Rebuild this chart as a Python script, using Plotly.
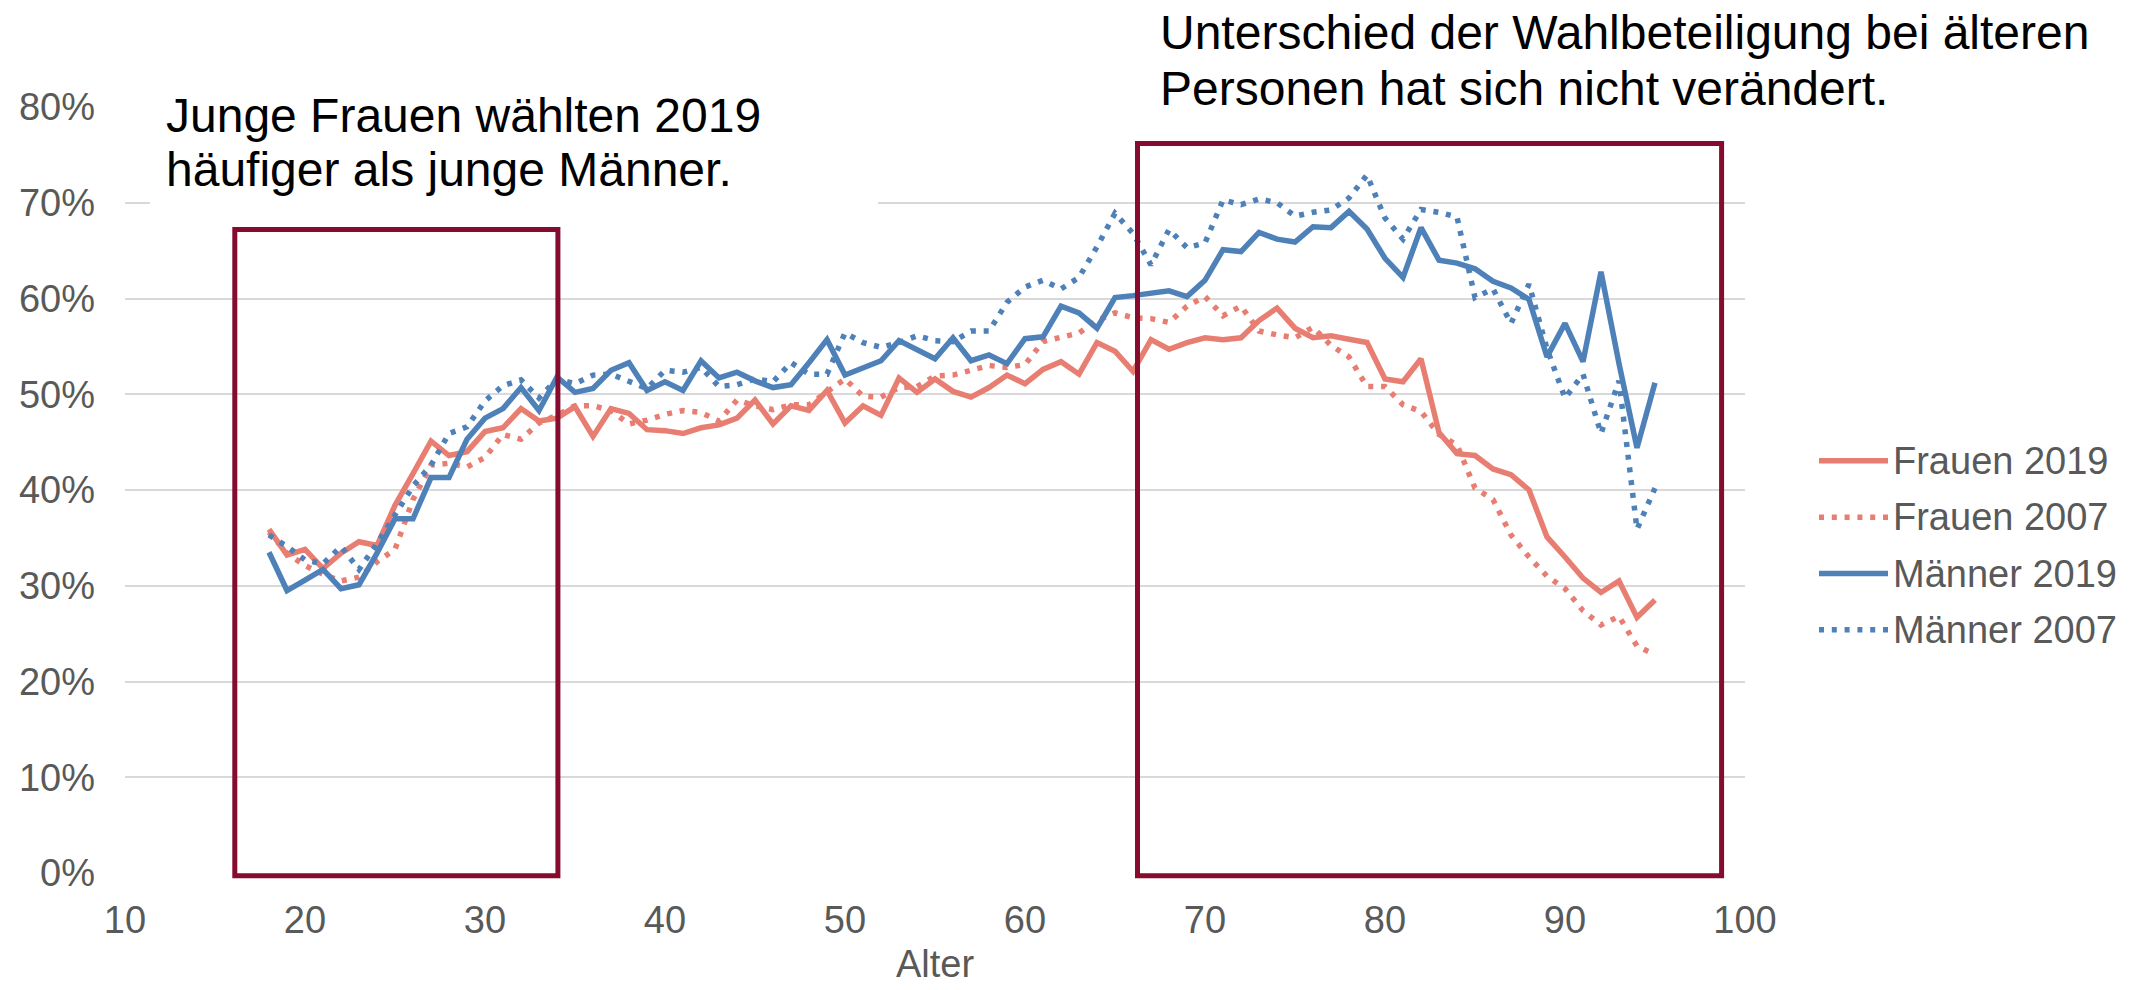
import plotly.graph_objects as go

# ---------------- data ----------------
ages = list(range(18, 96))

frauen_2019 = [35.9, 33.2, 33.8, 31.8, 33.4, 34.6, 34.2, 38.4, 41.7, 45.1,
               43.6, 44.0, 46.1, 46.5, 48.5, 47.2, 47.5, 48.7, 45.6, 48.5,
               48.0, 46.3, 46.2, 45.9, 46.5, 46.8, 47.5, 49.4, 46.9, 48.8,
               48.3, 50.4, 47.0, 48.8, 47.8, 51.7, 50.2, 51.6, 50.3, 49.7,
               50.7, 52.0, 51.1, 52.6, 53.4, 52.1, 55.4, 54.5, 52.4, 55.7,
               54.7, 55.4, 55.9, 55.7, 55.9, 57.7, 59.0, 56.9, 55.9, 56.1,
               55.75, 55.4, 51.6, 51.3, 53.7, 46.0, 43.8, 43.6, 42.2, 41.6,
               40.0, 35.1, 33.0, 30.8, 29.3, 30.5, 26.7, 28.5]

frauen_2007 = [35.6, 33.4, 32.1, 31.2, 30.5, 30.9, 32.5, 33.8, 39.0, 42.6,
               42.8, 42.4, 43.4, 45.8, 45.3, 47.0, 47.8, 48.8, 48.8, 48.3,
               46.9, 47.3, 47.9, 48.3, 48.1, 47.2, 49.4, 48.8, 48.4, 48.9,
               48.9, 50.3, 51.6, 49.8, 49.7, 50.7, 50.8, 51.9, 52.0, 52.5,
               53.0, 52.8, 53.1, 55.5, 55.9, 56.4, 57.7, 58.5, 58.0, 57.9,
               57.5, 59.2, 60.2, 58.2, 59.2, 56.6, 56.2, 55.9, 57.0, 55.1,
               53.9, 50.8, 50.8, 48.9, 48.2, 45.8, 44.7, 40.2, 39.0, 35.3,
               33.0, 31.0, 29.7, 27.4, 25.9, 26.8, 23.7, 22.8]

maenner_2019 = [33.5, 29.5, 30.6, 31.7, 29.7, 30.1, 33.4, 37.0, 37.0, 41.3,
                41.3, 45.3, 47.5, 48.5, 50.7, 48.3, 51.8, 50.2, 50.6, 52.5,
                53.3, 50.4, 51.3, 50.4, 53.5, 51.7, 52.3, 51.4, 50.7, 51.0,
                53.3, 55.7, 52.0, 52.7, 53.5, 55.6, 54.6, 53.7, 55.9, 53.5,
                54.1, 53.2, 55.8, 56.0, 59.2, 58.5, 56.9, 60.1, 60.3, 60.6,
                60.8, 60.2, 61.9, 65.1, 64.9, 66.9, 66.2, 65.9, 67.5, 67.4,
                69.1, 67.25, 64.2, 62.2, 67.4, 64.0, 63.7, 63.1, 61.8, 61.1,
                59.9, 53.9, 57.4, 53.4, 62.8, 53.2, 44.4, 51.2]

maenner_2007 = [35.3, 34.1, 32.7, 32.3, 34.1, 31.7, 34.4, 37.5, 40.4, 42.6,
                45.9, 46.6, 49.3, 50.9, 51.5, 49.6, 51.6, 51.1, 52.0, 52.1,
                51.3, 50.6, 52.5, 52.3, 52.8, 50.8, 51.0, 51.6, 51.3, 53.3,
                52.1, 52.1, 56.4, 55.4, 54.9, 55.4, 56.1, 55.6, 55.5, 56.6,
                56.6, 59.6, 61.2, 61.9, 61.0, 62.2, 65.4, 68.9, 66.8, 63.5,
                67.2, 65.3, 65.8, 70.3, 69.8, 70.4, 70.0, 68.6, 69.0, 69.25,
                70.5, 72.9, 68.4, 66.2, 69.3, 69.0, 68.5, 60.1, 61.0, 57.4,
                61.5, 54.75, 49.6, 52.1, 45.9, 51.4, 35.9, 40.2]

series_names = ["Frauen 2019", "Frauen 2007", "Männer 2019", "Männer 2007"]
series_values = [frauen_2019, frauen_2007, maenner_2019, maenner_2007]

x_ticks = [10, 20, 30, 40, 50, 60, 70, 80, 90, 100]
y_ticks = [0, 10, 20, 30, 40, 50, 60, 70, 80]
y_tick_labels = [f"{v}%" for v in y_ticks]

left_text = ["Junge Frauen wählten 2019", "häufiger als junge Männer."]
right_text = ["Unterschied der Wahlbeteiligung bei älteren",
              "Personen hat sich nicht verändert."]

# highlight boxes in data units: (age from, age to, % from, % to)
box_young = (16.1, 34.05, -0.3, 67.2)
box_old = (66.25, 98.7, -0.3, 76.2)

# ---------------- styling ----------------
RED = "#E87E72"
BLUE = "#4F81B9"
BOX = "#850C2E"
GRAY = "#595959"
GRID = "#D9D9D9"
FONT = "Liberation Sans, Arial, sans-serif"
AX_FONT = 38
colors = [RED, RED, BLUE, BLUE]
widths = [5.5, 5.5, 5.5, 5.5]
dashes = ["solid", "5px,7.8px", "solid", "5px,7.8px"]

W_PX, H_PX = 2134, 990
L, R, T, B = 125, 389, 107, 108
PW, PH = W_PX - L - R, H_PX - T - B
X0, X1 = 10, 100
Y0, Y1 = 0, 80


def px_x(px):
    return (px - L) / PW


def px_y(py):
    return (H_PX - B - py) / PH


def dx(v):
    return (v - X0) / (X1 - X0)


def dy(v):
    return (v - Y0) / (Y1 - Y0)


fig = go.Figure()
for name, vals, col, wd, dash in zip(series_names, series_values, colors, widths, dashes):
    fig.add_trace(go.Scatter(
        x=ages, y=vals, name=name, mode="lines",
        line=dict(color=col, width=wd, dash=dash),
        showlegend=False, hoverinfo="skip"))

shapes = []
# white backgrounds of the two text boxes (hide gridlines behind text)
shapes.append(dict(type="rect", xref="paper", yref="paper",
                   x0=px_x(150), x1=px_x(878), y0=px_y(207), y1=px_y(60),
                   fillcolor="white", line=dict(width=0), layer="above"))
shapes.append(dict(type="rect", xref="paper", yref="paper",
                   x0=px_x(1137), x1=px_x(2134), y0=px_y(128), y1=px_y(0),
                   fillcolor="white", line=dict(width=0), layer="above"))
# highlight boxes
for (a0, a1, v0, v1) in (box_young, box_old):
    shapes.append(dict(type="rect", xref="paper", yref="paper",
                       x0=dx(a0), x1=dx(a1), y0=dy(v0), y1=dy(v1),
                       line=dict(color=BOX, width=5), fillcolor="rgba(0,0,0,0)",
                       layer="above"))

annotations = []
for i, line in enumerate(left_text):
    annotations.append(dict(xref="paper", yref="paper", x=px_x(164),
                            y=px_y(116 + 54 * i), xanchor="left", yanchor="middle",
                            text=line, showarrow=False,
                            font=dict(family=FONT, size=48, color="black")))
for i, line in enumerate(right_text):
    annotations.append(dict(xref="paper", yref="paper", x=px_x(1158),
                            y=px_y(32 + 56 * i), xanchor="left", yanchor="middle",
                            text=line, showarrow=False,
                            font=dict(family=FONT, size=48, color="black")))

# legend drawn on the right
for i, (name, col, wd, dash) in enumerate(zip(series_names, colors, widths, dashes)):
    yc = 465 + 57 * i
    shapes.append(dict(type="line", xref="paper", yref="paper",
                       x0=px_x(1819), x1=px_x(1888), y0=px_y(yc), y1=px_y(yc),
                       line=dict(color=col, width=wd, dash=dash)))
    annotations.append(dict(xref="paper", yref="paper", x=px_x(1891),
                            y=px_y(yc), xanchor="left", yanchor="middle",
                            text=name, showarrow=False,
                            font=dict(family=FONT, size=AX_FONT, color=GRAY)))

fig.update_layout(
    width=W_PX, height=H_PX, autosize=False,
    margin=dict(l=L, r=R, t=T, b=B, pad=0),
    paper_bgcolor="white", plot_bgcolor="white",
    font=dict(family=FONT, size=AX_FONT, color=GRAY),
    showlegend=False,
    shapes=shapes, annotations=annotations,
)
fig.update_xaxes(range=[X0, X1], tickvals=x_ticks, showgrid=False, zeroline=False,
                 showline=False, ticks="", ticklabelstandoff=21,
                 tickfont=dict(family=FONT, size=AX_FONT, color=GRAY),
                 title=dict(text="Alter", standoff=10,
                            font=dict(family=FONT, size=AX_FONT, color=GRAY)))
fig.update_yaxes(range=[Y0, Y1], tickvals=y_ticks, ticktext=y_tick_labels,
                 showgrid=True, gridcolor=GRID, gridwidth=2, zeroline=False,
                 showline=False, ticks="", ticklabelstandoff=29,
                 tickfont=dict(family=FONT, size=AX_FONT, color=GRAY))

fig.write_html("out.html",
               config={"displayModeBar": False, "staticPlot": True},
               post_script="document.body.style.margin='0px';"
                           "document.body.style.padding='0px';")
